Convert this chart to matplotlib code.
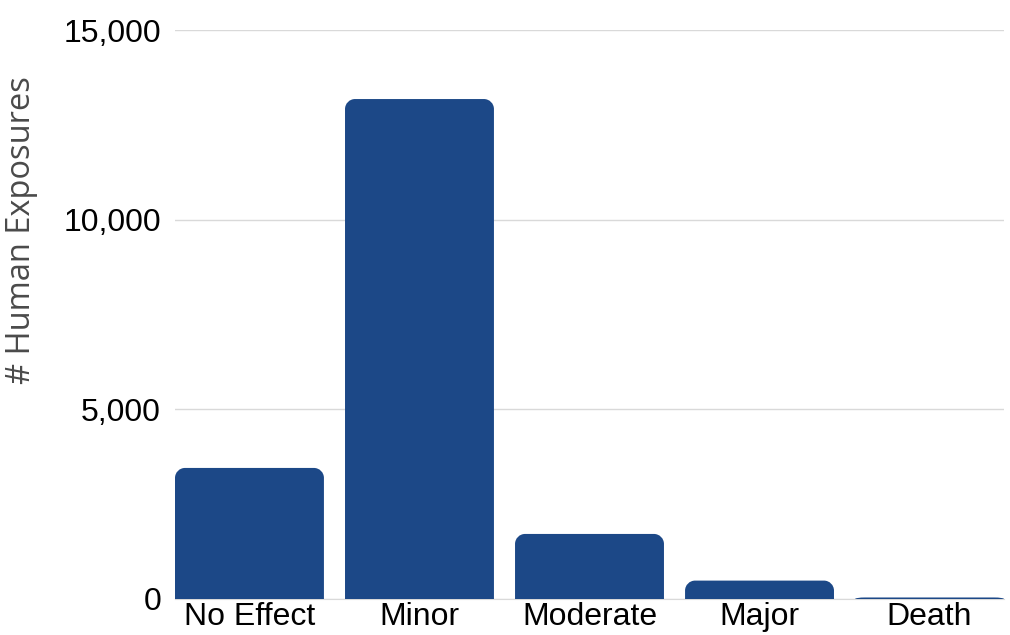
import matplotlib
matplotlib.use("Agg")
import matplotlib.pyplot as plt
from matplotlib.path import Path
from matplotlib.patches import PathPatch
from matplotlib.ticker import FuncFormatter

categories = ["No Effect", "Minor", "Moderate", "Major", "Death"]
exposures = [3455, 13180, 1715, 485, 40]
yticks = [0, 5000, 10000, 15000]

bar_color = "#1c4887"
bar_width = 0.876
corner_px = 10


def rounded_top_bar(ax, x, w, h, rx, ry):
    # rectangle with the two upper corners rounded (cubic bezier quarter arcs)
    ry = min(ry, h)
    rx = min(rx, w / 2)
    k = 0.5523
    x0, x1 = x - w / 2, x + w / 2
    verts = [
        (x0, 0), (x0, h - ry),
        (x0, h - ry + k * ry), (x0 + rx - k * rx, h), (x0 + rx, h),
        (x1 - rx, h),
        (x1 - rx + k * rx, h), (x1, h - ry + k * ry), (x1, h - ry),
        (x1, 0), (x0, 0),
    ]
    codes = [Path.MOVETO, Path.LINETO,
             Path.CURVE4, Path.CURVE4, Path.CURVE4,
             Path.LINETO,
             Path.CURVE4, Path.CURVE4, Path.CURVE4,
             Path.LINETO, Path.CLOSEPOLY]
    ax.add_patch(PathPatch(Path(verts, codes), facecolor=bar_color,
                           edgecolor="none", zorder=3))


fig = plt.figure(figsize=(10.1, 6.35), dpi=100)
ax = fig.add_axes([175 / 1010, 36 / 635, 829 / 1010, 569 / 635])

xlim = (-bar_width / 2, len(categories) - 1 + bar_width / 2)
ax.set_xlim(*xlim)
ax.set_ylim(0, 15000)

# convert the corner radius from pixels into data units on each axis
ax_w = 829
ax_h = 569
rx = corner_px * (xlim[1] - xlim[0]) / ax_w
ry = corner_px * 15000 / ax_h

for i, v in enumerate(exposures):
    rounded_top_bar(ax, i, bar_width, v, rx, ry)

ax.set_xticks(range(len(categories)))
ax.set_xticklabels(categories, fontfamily="Liberation Sans", fontsize=23)
ax.set_yticks(yticks)
ax.yaxis.set_major_formatter(FuncFormatter(lambda v, p: f"{int(v):,}"))
for lbl in ax.get_yticklabels():
    lbl.set_fontfamily("Liberation Sans")
    lbl.set_fontsize(23)

ax.tick_params(axis="both", length=0, colors="black")
ax.tick_params(axis="y", pad=10)
ax.tick_params(axis="x", pad=2)
ax.grid(axis="y", color="#d9d9d9", linewidth=1, zorder=0)
for s in ["top", "right", "left"]:
    ax.spines[s].set_visible(False)
ax.spines["bottom"].set_color("#d9d9d9")
ax.spines["bottom"].set_zorder(0)

ax.set_ylabel("# Human Exposures", fontfamily="Open Sans", fontsize=23.5,
              color="#4a4a4a")
ax.yaxis.set_label_coords(-(175 - 38) / 829, (599 - 230) / 569)

fig.savefig("out.png", dpi=100)
